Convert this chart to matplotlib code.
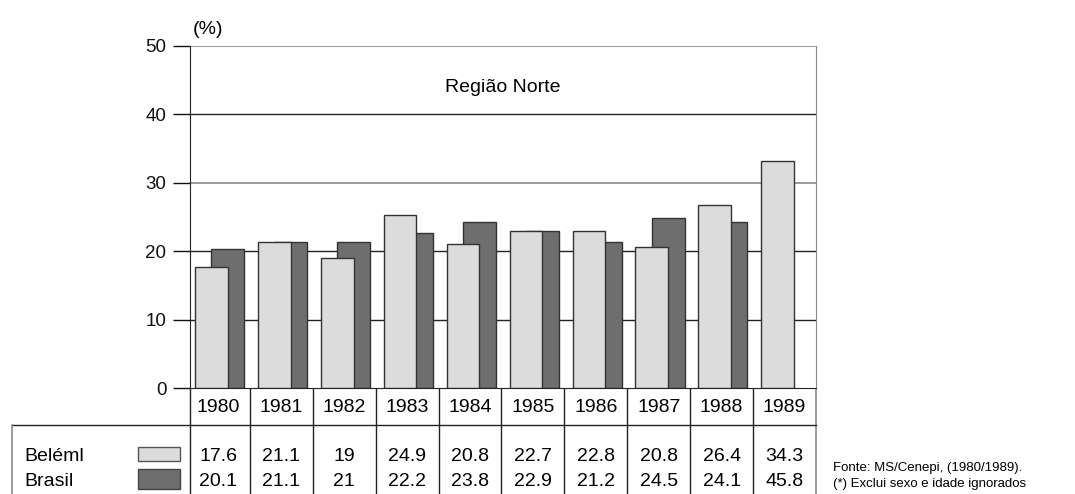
import numpy as np
import matplotlib
matplotlib.use("Agg")
import matplotlib.pyplot as plt
from matplotlib.patches import Rectangle

plt.rcParams['font.family'] = ['Liberation Sans', 'DejaVu Sans']

years = ['1980', '1981', '1982', '1983', '1984', '1985', '1986', '1987', '1988', '1989']
# heights of the bars as drawn in the picture (the 1989 Brasil bar is missing)
belem_bars = [17.7, 21.3, 19.0, 25.3, 21.1, 23.0, 23.0, 20.6, 26.7, 33.2]
brasil_bars = [20.3, 21.3, 21.3, 22.6, 24.3, 23.0, 21.3, 24.8, 24.3, np.nan]
# values printed in the table
belem_tab = ['17.6', '21.1', '19', '24.9', '20.8', '22.7', '22.8', '20.8', '26.4', '34.3']
brasil_tab = ['20.1', '21.1', '21', '22.2', '23.8', '22.9', '21.2', '24.5', '24.1', '45.8']
series = ['Beléml', 'Brasil']

light = '#dcdcdc'
dark = '#6e6e6e'
W, H = 1075, 494
fs = 14

fig = plt.figure(figsize=(W / 100, H / 100), dpi=100)
ax = fig.add_axes([190 / W, (H - 388) / H, (816 - 190) / W, (388 - 46) / H])

x = np.arange(len(years))
ax.bar(x + 0.15, brasil_bars, width=0.52, color=dark, edgecolor='#333333', linewidth=1, zorder=2)
ax.bar(x - 0.11, belem_bars, width=0.52, color=light, edgecolor='#333333', linewidth=1, zorder=3)

ax.set_xlim(-0.45, 9.5)
ax.set_ylim(0, 50)
ax.set_yticks([0, 10, 20, 30, 40, 50])
ax.tick_params(axis='y', length=12, width=1, labelsize=13.5, pad=5, colors='#111111')
ax.set_xticks([])
for v in [10, 20, 40]:
    ax.axhline(v, color='#222222', lw=1, zorder=1)
for v in [30, 50]:
    ax.axhline(v, color='#8a8a8a', lw=1.2, zorder=1)
ax.spines['top'].set_visible(False)
ax.spines['left'].set_color('#222222')
ax.spines['right'].set_color('#8a8a8a')
ax.spines['bottom'].set_color('#222222')
ax.text(0.5, 0.88, 'Região Norte', transform=ax.transAxes, ha='center', va='center', fontsize=fs)
ax.text(208 / W, 1 - 29 / H, '(%)', transform=fig.transFigure, ha='center', va='center', fontsize=fs)

# table below the chart, drawn in pixel coordinates
tab = fig.add_axes([0, 0, 1, 1], zorder=-1)
tab.set_xlim(0, W)
tab.set_ylim(H, 0)
tab.axis('off')

def px(xd):
    return (ax.transData.transform((xd, 0))[0])

edges = [px(i - 0.5) for i in range(1, len(years))]
left_px, right_px = px(-0.45), px(9.5)
for e in edges:
    tab.plot([e, e], [388, H], color='#222222', lw=1)
tab.plot([left_px, left_px], [388, H], color='#222222', lw=1)
tab.plot([right_px, right_px], [388, H], color='#8a8a8a', lw=1.2)
tab.plot([12, right_px], [425, 425], color='#222222', lw=1)
tab.plot([12, 12], [425, H], color='#8a8a8a', lw=1.2)

for i, yr in enumerate(years):
    cx = px(i)
    tab.text(cx, 407, yr, ha='center', va='center', fontsize=fs)
    tab.text(cx, 456, belem_tab[i], ha='center', va='center', fontsize=fs)
    tab.text(cx, 481, brasil_tab[i], ha='center', va='center', fontsize=fs)

tab.text(24, 456, series[0], ha='left', va='center', fontsize=fs)
tab.text(24, 481, series[1], ha='left', va='center', fontsize=fs)
tab.add_patch(Rectangle((138, 447), 42, 14, facecolor=light, edgecolor='#555555', lw=1))
tab.add_patch(Rectangle((138, 469), 42, 20, facecolor=dark, edgecolor='#444444', lw=1))

tab.text(833, 468, 'Fonte: MS/Cenepi, (1980/1989).', ha='left', va='center', fontsize=9.5)
tab.text(833, 484, '(*) Exclui sexo e idade ignorados', ha='left', va='center', fontsize=9.5)

fig.savefig('out.png', dpi=100)
